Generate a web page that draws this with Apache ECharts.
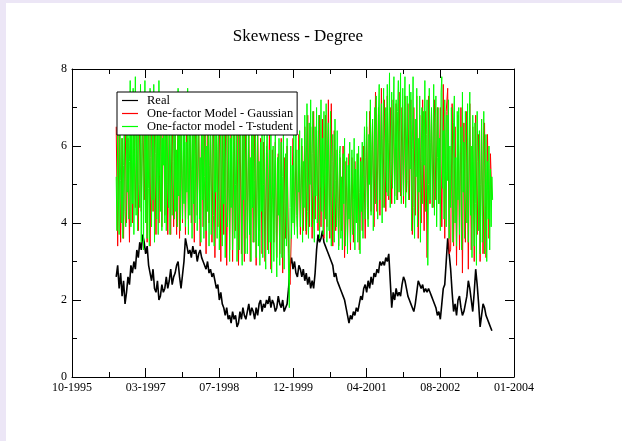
<!DOCTYPE html>
<html>
<head>
<meta charset="utf-8">
<script src="https://cdn.jsdelivr.net/npm/echarts@6/dist/echarts.min.js"></script>
<style>
html,body{margin:0;padding:0;background:#fff;}
#chart{width:622px;height:441px;}
</style>
</head>
<body>
<div id="chart"></div>
<script>
// ---- data ----
const titleText = 'Skewness - Degree';
const seriesNames = ['Real', 'One-factor Model - Gaussian', 'One-factor model - T-student'];
const xTickLabels = ['10-1995', '03-1997', '07-1998', '12-1999', '04-2001', '08-2002', '01-2004'];
const startDay = 300;     // first sample, in days after the 10-1995 axis origin
const realStepDays = 10;
const gaussStepDays = 10;
const tStudentStepDays = 5;

const realValues = [
  2.6, 2.9, 2.3, 2.7, 2.1, 2.5, 1.9, 2.2, 2.6, 2.4,
  2.9, 2.7, 3.0, 2.8, 3.3, 3.1, 3.5, 3.3, 3.7, 3.5,
  3.2, 3.4, 2.9, 2.7, 2.5, 2.8, 2.3, 2.2, 2.5, 2.0,
  2.1, 2.4, 2.2, 2.3, 2.6, 2.3, 2.5, 2.8, 2.4, 2.6,
  2.7, 2.9, 3.0, 2.6, 2.3, 2.3, 3.0, 3.6, 3.4, 3.2,
  3.3, 3.1, 3.4, 3.2, 3.3, 3.0, 3.2, 3.3, 3.1, 3.0,
  3.0, 2.8, 3.0, 2.7, 2.8, 2.6, 2.7, 2.5, 2.3, 2.4,
  2.0, 2.2, 1.9, 1.8, 1.6, 1.8, 1.5, 1.6, 1.4, 1.7,
  1.5, 1.6, 1.3, 1.4, 1.7, 1.5, 1.8, 1.6, 1.5, 1.7,
  1.9, 1.6, 1.8, 1.7, 1.5, 1.8, 1.6, 1.9, 2.0, 1.7,
  1.9, 1.8, 2.0, 1.9, 2.1, 1.8, 2.0, 1.9, 1.7, 1.8,
  2.1, 1.9, 1.8, 2.0, 1.7, 1.8, 1.9, 2.3, 2.9, 3.1,
  2.8, 3.0, 2.7, 2.6, 2.9, 2.8, 2.6, 2.8, 2.5, 2.7,
  2.4, 2.6, 2.3, 2.5, 2.3, 2.7, 3.3, 3.7, 3.5, 3.6,
  3.8, 3.5, 3.4, 3.3, 3.2, 3.2, 3.0, 2.9, 2.6, 2.7,
  2.5, 2.4, 2.3, 2.2, 2.1, 2.0, 1.8, 1.6, 1.4, 1.6,
  1.5, 1.7, 1.6, 1.8, 1.7, 1.9, 2.1, 2.0, 2.3, 2.4,
  2.2, 2.5, 2.3, 2.6, 2.4, 2.7, 2.6, 2.8, 2.7, 3.0,
  2.9, 3.0, 2.9, 3.1, 3.0, 3.2, 3.25, 1.8, 2.2, 2.0,
  2.3, 2.1, 2.2, 2.1, 2.4, 2.6, 2.5, 2.3, 2.1, 2.0,
  1.9, 1.8, 1.7, 1.9, 2.2, 2.5, 2.4, 2.3, 2.4, 2.2,
  2.3, 2.2, 2.3, 2.2, 2.1, 2.0, 2.0, 1.8, 1.6, 1.7,
  1.5, 1.9, 2.3, 2.4, 3.0, 3.6, 3.2, 2.8, 2.2, 1.7,
  1.9, 1.6, 2.0, 2.1, 1.8, 1.6, 1.7, 1.65, 2.1, 2.5,
  2.3, 2.0, 1.7, 2.2, 2.8, 2.4, 1.9, 1.3, 1.6, 1.9,
  1.8, 1.6, 1.5, 1.4, 1.3, 1.2
];

const gaussValues = [
  6.5, 3.4, 6.6, 3.5, 6.2, 3.6, 6.9, 4.0, 6.2, 3.5,
  6.7, 4.0, 7.0, 4.4, 6.4, 3.8, 6.9, 4.3, 7.0, 4.6,
  6.8, 3.5, 7.2, 3.4, 7.1, 4.3, 6.5, 3.7, 7.2, 4.0,
  7.1, 3.9, 7.3, 4.2, 6.9, 3.7, 6.6, 3.7, 7.0, 3.9,
  6.8, 3.7, 7.0, 3.6, 6.5, 4.0, 6.9, 3.7, 7.2, 4.1,
  7.0, 4.0, 6.9, 3.5, 7.0, 4.2, 6.6, 3.4, 6.9, 3.9,
  6.8, 3.2, 7.0, 4.0, 6.5, 3.5, 6.9, 3.1, 6.7, 3.9,
  6.9, 3.0, 6.6, 3.7, 6.8, 2.9, 6.4, 3.3, 6.9, 3.0,
  6.7, 3.8, 6.3, 2.9, 6.8, 3.2, 6.5, 3.0, 6.9, 3.6,
  6.6, 3.0, 6.8, 3.5, 6.4, 2.9, 6.7, 3.8, 6.2, 3.2,
  6.1, 3.0, 6.0, 3.3, 6.4, 2.8, 5.9, 3.5, 6.1, 3.1,
  5.8, 3.2, 6.2, 2.7, 5.7, 3.6, 6.0, 3.2, 2.4, 3.9,
  6.2, 3.8, 5.9, 3.9, 6.3, 3.7, 6.0, 3.8, 6.5, 3.7,
  6.8, 3.9, 6.5, 3.6, 6.9, 4.1, 6.4, 3.8, 6.8, 3.9,
  6.7, 3.6, 6.8, 3.9, 7.2, 3.6, 7.1, 3.4, 6.4, 3.8,
  5.9, 3.4, 5.7, 3.8, 6.0, 3.1, 5.6, 3.6, 5.8, 3.3,
  5.7, 3.5, 5.6, 4.0, 5.8, 3.3, 5.7, 3.8, 6.0, 3.6,
  6.5, 4.1, 6.9, 4.3, 6.7, 3.9, 7.4, 4.3, 7.0, 4.2,
  7.5, 4.4, 7.2, 4.3, 7.3, 4.6, 7.0, 4.5, 7.2, 4.7,
  7.1, 4.6, 7.4, 4.7, 7.0, 4.5, 7.3, 4.8, 7.1, 4.6,
  7.2, 3.7, 7.0, 4.2, 7.3, 3.6, 6.8, 4.0, 7.2, 3.8,
  6.9, 3.1, 7.3, 4.5, 6.9, 4.4, 7.2, 4.6, 7.0, 4.5,
  7.0, 3.9, 7.6, 3.6, 6.9, 7.5, 3.2, 3.3, 7.1, 3.4,
  6.5, 2.9, 6.8, 3.3, 7.0, 2.7, 6.6, 3.5, 6.9, 2.8,
  7.1, 3.3, 6.5, 3.0, 6.8, 3.7, 6.3, 3.0, 6.7, 3.2,
  6.6, 3.1, 6.3, 3.6, 5.8, 4.6
];

const tStudentValues = [
  5.2, 3.8, 6.4, 4.6, 3.7, 6.9, 5.1, 4.0, 6.2, 3.6, 5.5, 6.8, 4.3, 3.9, 6.5, 4.8,
  7.2, 4.1, 5.6, 7.7, 3.9, 6.3, 4.5, 7.5, 3.7, 5.9, 7.8, 4.2, 6.6, 3.8, 7.4, 5.0,
  4.4, 7.6, 3.5, 6.1, 7.3, 3.3, 5.4, 7.7, 4.0, 6.7, 3.6, 7.1, 4.9, 3.4, 7.5, 5.7,
  3.9, 6.8, 4.6, 7.6, 3.5, 5.8, 7.2, 4.1, 6.4, 3.7, 7.7, 5.2, 4.3, 7.0, 3.8, 6.2,
  5.5, 7.3, 4.0, 6.5, 3.8, 7.1, 5.0, 4.4, 6.9, 3.7, 6.0, 7.4, 4.2, 5.6, 6.8, 4.1,
  7.0, 4.3, 5.9, 3.9, 7.5, 4.7, 6.3, 3.8, 7.2, 5.3, 4.1, 6.8, 4.5, 7.3, 3.9, 6.1,
  4.8, 7.5, 3.7, 6.6, 4.2, 7.1, 5.4, 3.6, 6.9, 4.5, 7.4, 4.0, 5.8, 7.0, 3.8, 6.3,
  7.1, 4.1, 5.7, 3.5, 6.8, 4.6, 7.2, 3.6, 5.2, 6.7, 3.8, 6.0, 4.3, 7.0, 3.4, 5.5,
  6.9, 3.7, 5.1, 7.2, 4.2, 3.4, 6.4, 4.8, 7.0, 3.6, 5.9, 6.7, 3.3, 5.3, 7.1, 4.0,
  3.4, 6.6, 4.5, 7.1, 3.1, 5.6, 6.8, 3.9, 4.9, 6.5, 3.0, 6.2, 4.4, 7.0, 3.3, 5.8,
  6.7, 3.6, 5.0, 6.9, 3.0, 4.7, 6.5, 3.3, 5.9, 7.0, 4.1, 2.9, 6.3, 4.6, 6.8, 3.2,
  5.4, 6.9, 3.2, 4.8, 6.6, 3.7, 5.7, 3.0, 6.4, 4.4, 7.0, 3.5, 5.1, 6.7, 3.1, 4.6,
  6.5, 3.4, 5.6, 2.9, 6.1, 4.3, 6.8, 3.1, 5.0, 6.3, 3.7, 2.8, 5.8, 6.6, 4.0, 3.2,
  5.9, 3.5, 6.4, 2.7, 4.6, 6.0, 3.0, 5.3, 6.3, 3.8, 2.6, 5.7, 4.2, 6.2, 2.9, 5.0,
  6.1, 3.1, 5.2, 6.4, 2.8, 4.5, 5.8, 3.4, 6.2, 4.0, 2.7, 1.8, 4.4, 6.0, 3.6, 5.5,
  4.0, 6.3, 3.7, 5.4, 6.5, 4.2, 3.6, 5.9, 4.8, 6.4, 3.9, 5.1, 6.2, 3.5, 5.6, 4.4,
  6.8, 3.8, 5.3, 7.1, 4.3, 3.6, 6.6, 5.0, 7.2, 3.9, 5.8, 6.9, 4.1, 3.5, 6.5, 4.7,
  7.0, 4.0, 5.5, 6.8, 3.6, 4.9, 7.2, 4.3, 6.2, 3.7, 6.9, 5.2, 4.1, 7.1, 3.5, 5.9,
  6.6, 3.8, 4.7, 6.9, 3.4, 5.6, 6.3, 4.2, 3.5, 6.7, 5.1, 3.9, 6.4, 4.5, 3.3, 5.8,
  6.0, 3.6, 5.2, 3.3, 5.8, 4.5, 6.2, 3.4, 4.9, 5.7, 3.2, 5.5, 4.1, 6.1, 3.5, 4.7,
  5.9, 3.7, 4.6, 6.2, 3.3, 5.4, 4.0, 5.8, 3.5, 6.0, 4.8, 3.2, 5.6, 4.3, 6.1, 3.6,
  5.2, 6.5, 4.1, 5.7, 6.9, 4.4, 3.9, 6.3, 5.0, 7.2, 4.2, 5.9, 6.7, 3.8, 5.4, 7.0,
  4.5, 7.3, 5.3, 4.1, 6.8, 7.6, 4.6, 5.8, 7.1, 4.0, 6.2, 7.5, 4.4, 5.5, 7.0, 4.8,
  7.6, 4.7, 6.1, 7.9, 4.4, 5.6, 7.4, 4.9, 6.6, 7.8, 4.5, 5.9, 7.2, 4.6, 6.9, 7.7,
  4.8, 6.4, 7.9, 4.5, 5.7, 7.5, 4.7, 6.8, 7.8, 4.4, 6.0, 7.3, 5.1, 4.6, 7.6, 5.4,
  7.4, 3.8, 5.9, 7.8, 4.4, 3.6, 6.7, 5.2, 7.5, 3.9, 6.2, 4.8, 7.3, 3.5, 5.6, 7.0,
  4.5, 6.9, 5.5, 7.7, 4.3, 6.3, 7.2, 2.9, 5.0, 7.5, 4.6, 6.1, 7.0, 4.4, 5.8, 7.6,
  4.2, 6.6, 7.3, 3.9, 5.7, 7.0, 4.5, 6.2, 3.8, 7.4, 7.8, 4.9, 6.4, 4.1, 7.2, 5.3,
  3.9, 6.8, 5.1, 7.2, 3.6, 6.0, 4.4, 7.0, 5.5, 3.5, 6.6, 7.3, 4.0, 5.7, 3.4, 6.9,
  4.6, 7.0, 3.7, 5.8, 6.5, 3.3, 7.4, 4.8, 6.1, 3.6, 6.9, 5.2, 4.0, 7.1, 3.5, 5.9,
  7.4, 4.2, 6.0, 3.1, 6.8, 5.3, 3.4, 6.6, 4.5, 2.9, 6.9, 5.6, 3.8, 6.4, 3.2, 5.0,
  6.7, 3.5, 5.1, 6.9, 3.2, 4.4, 6.3, 3.0, 5.6, 4.1, 6.0, 3.3, 5.4, 3.9, 5.2, 4.6
];

// ---- chart ----
const FONT = '"Liberation Serif", "Times New Roman", serif';
const toPairs = (vals, step) => vals.map((v, i) => [startDay + i * step, v]);

const baseAxis = {
  axisLine: { show: true, onZero: false, lineStyle: { color: '#000', width: 1 } },
  axisTick: { show: true, inside: true, length: 9, lineStyle: { color: '#000', width: 1 } },
  minorTick: { show: true, splitNumber: 2, length: 5, lineStyle: { color: '#000', width: 1 } },
  splitLine: { show: false },
  minorSplitLine: { show: false }
};

const chart = echarts.init(document.getElementById('chart'), null, { renderer: 'canvas' });
chart.setOption({
  animation: false,
  backgroundColor: '#ffffff',
  graphic: [
    { type: 'rect', left: 0, top: 0, shape: { width: 622, height: 3 }, style: { fill: '#ece6f6' }, silent: true },
    { type: 'rect', left: 0, top: 0, shape: { width: 6, height: 441 }, style: { fill: '#ece6f6' }, silent: true }
  ],
  title: {
    text: titleText,
    left: 293, top: 23, textAlign: 'center',
    textStyle: { fontFamily: FONT, fontSize: 17, fontWeight: 'normal', color: '#000' }
  },
  grid: { left: 72, right: 108, top: 69, bottom: 64, containLabel: false },
  legend: {
    z: 20,
    orient: 'vertical',
    left: 117, top: 92,
    data: seriesNames,
    icon: 'rect',
    itemWidth: 16, itemHeight: 1.2,
    itemGap: 0,
    padding: [2, 4, 2, 5],
    backgroundColor: '#ffffff',
    borderColor: '#000', borderWidth: 1, borderRadius: 0,
    textStyle: { fontFamily: FONT, fontSize: 12.5, color: '#000', lineHeight: 13, padding: [0, 0, 0, 4] },
    selectedMode: false
  },
  xAxis: [
    Object.assign({}, baseAxis, {
      type: 'value', position: 'bottom', min: 0, max: 3000, interval: 500,
      axisLabel: {
        show: true, margin: 5, color: '#000', fontFamily: FONT, fontSize: 12,
        formatter: v => xTickLabels[Math.round(v / 500)] || ''
      }
    }),
    Object.assign({}, baseAxis, {
      type: 'value', position: 'top', min: 0, max: 3000, interval: 500,
      axisLabel: { show: false }
    })
  ],
  yAxis: [
    Object.assign({}, baseAxis, {
      type: 'value', position: 'left', min: 0, max: 8, interval: 2,
      axisLabel: { show: true, margin: 5, color: '#000', fontFamily: FONT, fontSize: 12 }
    }),
    Object.assign({}, baseAxis, {
      type: 'value', position: 'right', min: 0, max: 8, interval: 2,
      axisLabel: { show: false }
    })
  ],
  series: [
    { name: seriesNames[0], type: 'line', data: toPairs(realValues, realStepDays), showSymbol: false, symbol: 'none',
      lineStyle: { color: '#000000', width: 1.6 }, itemStyle: { color: '#000000' }, z: 2 },
    { name: seriesNames[1], type: 'line', data: toPairs(gaussValues, gaussStepDays), showSymbol: false, symbol: 'none',
      lineStyle: { color: '#ff0000', width: 1 }, itemStyle: { color: '#ff0000' }, z: 2 },
    { name: seriesNames[2], type: 'line', data: toPairs(tStudentValues, tStudentStepDays), showSymbol: false, symbol: 'none',
      lineStyle: { color: '#00ff00', width: 1 }, itemStyle: { color: '#00ff00' }, z: 2 }
  ]
});
</script>
</body>
</html>
